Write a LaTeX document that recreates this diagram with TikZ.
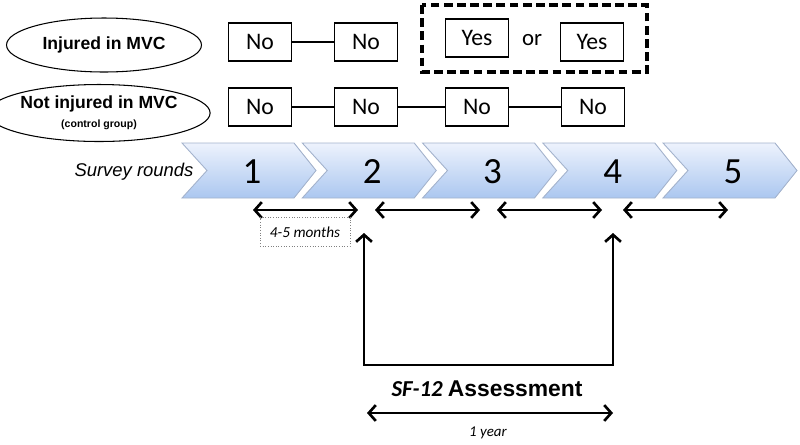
\documentclass[tikz,border=0pt]{standalone}
\usepackage{fontspec}
\setmainfont{Carlito}
\newfontfamily\arialfont{Liberation Sans}
\usetikzlibrary{arrows.meta}
\usetikzlibrary{positioning}
\usetikzlibrary{shapes.geometric}
\definecolor{chevtop}{rgb}{0.93, 0.95, 0.99}
\definecolor{chevbot}{rgb}{0.67, 0.78, 0.94}
\definecolor{chevedge}{rgb}{0.64, 0.70, 0.80}

\begin{document}
\begin{tikzpicture}[x=0.02cm, y=-0.02cm,
    group/.style={draw, ellipse, line width=0.6pt, minimum width=3.9cm, minimum height=1.08cm, inner sep=0pt, align=center, font=\arialfont\bfseries\fontsize{10}{11}\selectfont},
    answer/.style={draw, line width=0.7pt, minimum width=1.26cm, minimum height=0.76cm, inner sep=0pt, font=\fontsize{13.5}{15}\selectfont},
    link/.style={line width=1.1pt},
    span/.style={line width=1.5pt, {Straight Barb[length=4pt,width=9pt]}-{Straight Barb[length=4pt,width=9pt]}},
    >={Straight Barb[length=4pt,width=9pt]}]
  \useasboundingbox (0,0) rectangle (800,444);

  % groups
  \node [group] (inj) at (104,45) {Injured in MVC};
  \node [group, minimum width=3.84cm, minimum height=1.14cm] (ctl) at (99,113) {Not injured in MVC\\[0pt]{\fontsize{6}{7}\selectfont (control group)}};

  % answers, injured
  \node [answer] (n11) at (260,42) {No};
  \node [answer] (n12) at (366,42) {No};
  \draw [link] (n11) -- (n12);
  \node [answer] (y13) at (477,38) {Yes};
  \node [font=\fontsize{13}{15}\selectfont] (or) at (532,40) {or};
  \node [answer] (y14) at (592,42) {Yes};
  \draw [dashed, dash pattern=on 5pt off 2.5pt, line width=1.8pt] (422,5) rectangle (647,72);

  % answers, control group
  \node [answer] (n21) at (260,107) {No};
  \node [answer] (n22) at (366,107) {No};
  \node [answer] (n23) at (477,107) {No};
  \node [answer] (n24) at (593,107) {No};
  \draw [link] (n21) -- (n22) -- (n23) -- (n24);

  % survey rounds
  \node [font=\arialfont\itshape\fontsize{10.5}{12}\selectfont] (rounds) at (134,172) {Survey rounds};
  \foreach \i in {1,...,5} {
    \pgfmathsetmacro{\L}{182+120.25*(\i-1)}
    \draw [chevedge, line width=0.5pt, top color=chevtop, bottom color=chevbot]
      (\L,143) -- ++(112,0) -- ++(22,27.5) -- ++(-22,27.5) -- ++(-112,0) -- ++(25,-27.5) -- cycle;
    \node [font=\fontsize{21}{24}\selectfont] (r\i) at (\L+70,172) {\i};
  }

  % intervals
  \coordinate (s1) at (253,210); \coordinate (e1) at (358,210);
  \coordinate (s2) at (375,210); \coordinate (e2) at (480,210);
  \coordinate (s3) at (497,210); \coordinate (e3) at (602,210);
  \coordinate (s4) at (623,210); \coordinate (e4) at (728,210);
  \foreach \i in {1,...,4}
    \draw [span] (s\i) -- (e\i);
  \node [draw=gray, densely dotted, line width=0.5pt, minimum width=1.8cm, minimum height=0.58cm, font=\itshape\fontsize{8.7}{10}\selectfont] (gap) at (305,232) {4-5 months};

  % assessment
  \coordinate (a2) at (364,233);
  \coordinate (a4) at (613,233);
  \coordinate (c2) at (364,365);
  \coordinate (c4) at (613,365);
  \draw [line width=1.5pt, <->] (a2) -- (c2) -- (c4) -- (a4);
  \node [font=\bfseries\fontsize{13}{15}\selectfont] (sf) at (487,389) {\textit{SF-12} {\arialfont Assessment}};
  \coordinate (y1) at (367,413);
  \coordinate (y2) at (613,413);
  \draw [span] (y1) -- (y2);
  \node [font=\itshape\fontsize{8.5}{10}\selectfont] (year) at (488,433) {1 year};
\end{tikzpicture}
\end{document}
